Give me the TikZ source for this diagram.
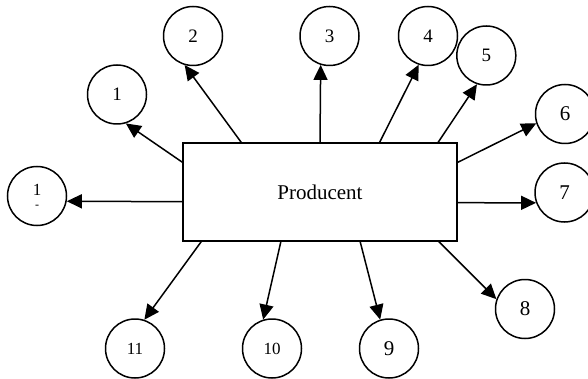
\documentclass[tikz,border=0pt]{standalone}
\usepackage{fontspec}
\setmainfont{Liberation Serif}
\usetikzlibrary{arrows.meta}
\begin{document}
\begin{tikzpicture}[x=1pt,y=-1pt,
  circ/.style={draw,circle,line width=1.5pt,minimum size=59pt,inner sep=0pt},
  fa/.style={font=\fontsize{19}{19}\selectfont},
  fb/.style={font=\fontsize{21}{21}\selectfont},
  fc/.style={font=\fontsize{17}{17}\selectfont},
  box/.style={draw,rectangle,line width=1.5pt,minimum width=274pt,minimum height=98pt,outer sep=0pt,font=\fontsize{21}{21}\selectfont},
  arr/.style={line width=1.5pt,-{Triangle[length=15pt,width=14pt]}}]
\useasboundingbox (0,0) rectangle (588,379);
\node[box] (prod) at (320,192) {Producent};
\node[circ,fa] (c1) at (117,94.5) {1};
\node[circ,fa] (c2) at (193,36) {2};
\node[circ,fa] (c3) at (329.5,36) {3};
\node[circ,fa] (c4) at (428,36) {4};
\node[circ,fa] (c5) at (486.3,55.5) {5};
\node[circ,fb] (c6) at (565,114) {6};
\node[circ,fb] (c7) at (564.5,192.5) {7};
\node[circ,fb] (c8) at (525,309) {8};
\node[circ,fb] (c9) at (389,348.5) {9};
\node[circ,fc] (c10) at (272,348.5) {10};
\node[circ,fc] (c11) at (135,348.5) {11};
\node[circ,align=center,font=\fontsize{17}{13}\selectfont] (c12) at (37,196) {1\\{\fontsize{12}{12}\selectfont -}};
\draw[arr] ([yshift=-19.7pt]prod.north west) -- (c1.-73.6);
\draw[arr] ([xshift=58.7pt]prod.north west) -- (c2.-106.2);
\draw[arr] ([xshift=137pt]prod.north west) -- (c3.-107.6);
\draw[arr] ([xshift=196.3pt]prod.north west) -- (c4.-108);
\draw[arr] ([xshift=254.7pt]prod.north west) -- (c5.-108);
\draw[arr] ([yshift=-19.7pt]prod.north east) -- (c6.-162.1);
\draw[arr] ([yshift=-59.7pt]prod.north east) -- (c7.-160.9);
\draw[arr] ([xshift=255.3pt]prod.south west) -- (c8.161.7);
\draw[arr] ([xshift=177pt]prod.south west) -- (c9.107.8);
\draw[arr] ([xshift=98pt]prod.south west) -- (c10.107);
\draw[arr] ([xshift=18.7pt]prod.south west) -- (c11.72.9);
\draw[arr] ([yshift=-58.7pt]prod.north west) -- (c12.-10.9);
\end{tikzpicture}
\end{document}
